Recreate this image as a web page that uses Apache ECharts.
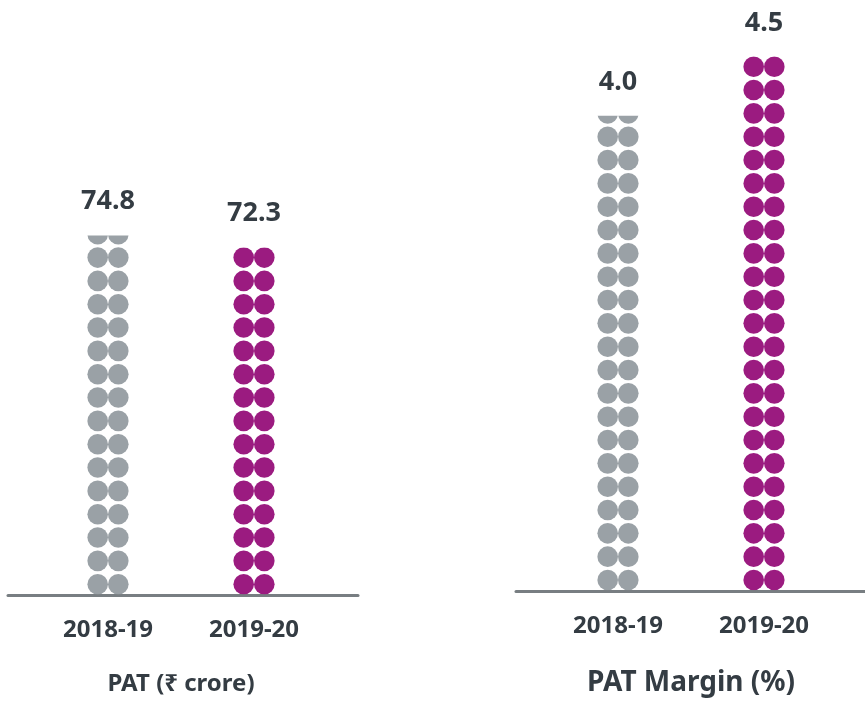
<!DOCTYPE html>
<html>
<head>
<meta charset="utf-8">
<script src="https://cdn.jsdelivr.net/npm/echarts@6/dist/echarts.min.js"></script>
<style>
  html, body { margin: 0; padding: 0; background: #fff; }
  #chart { width: 865px; height: 701px; }
</style>
</head>
<body>
<div id="chart"></div>
<script>
  // data
  const years = ['2018-19', '2019-20']
  const patValues = [74.8, 72.3]        // PAT (₹ crore)
  const marginValues = [4.0, 4.5]       // PAT Margin (%)
  const dotColors = ['#9aa1a6', '#9b1b80']

  const textColor = '#343c43'
  const font = '"Noto Sans", "DejaVu Sans", sans-serif'

  const chart = echarts.init(document.getElementById('chart'))

  function coloured(values) {
    return values.map((v, i) => ({ value: v, itemStyle: { color: dotColors[i] } }))
  }

  function catAxis(gridIndex, title, titleSize, labelMargin, titleGap) {
    return {
      type: 'category',
      gridIndex: gridIndex,
      data: years,
      axisLine: { show: false },
      axisTick: { show: false },
      axisLabel: {
        margin: labelMargin,
        color: textColor,
        fontSize: 24,
        fontWeight: 'bold',
        fontFamily: font
      },
      name: title,
      nameLocation: 'middle',
      nameGap: titleGap,
      nameTextStyle: {
        color: textColor,
        fontSize: titleSize,
        fontWeight: 'bold',
        fontFamily: font
      }
    }
  }

  function valAxis(gridIndex, max) {
    return {
      type: 'value',
      gridIndex: gridIndex,
      min: 0,
      max: max,
      axisLine: { show: false },
      axisTick: { show: false },
      axisLabel: { show: false },
      splitLine: { show: false }
    }
  }

  // plain baseline under each panel, wider than the bars' grid
  function lineAxis(gridIndex) {
    return {
      type: 'value',
      gridIndex: gridIndex,
      min: 0,
      max: 1,
      axisLine: { show: true, lineStyle: { color: '#787e82', width: 3 } },
      axisTick: { show: false },
      axisLabel: { show: false },
      splitLine: { show: false }
    }
  }

  // one column of dots; two columns side by side make one bar
  function dots(axisIndex, values, bound, side) {
    return {
      type: 'pictorialBar',
      xAxisIndex: axisIndex,
      yAxisIndex: axisIndex,
      barGap: '-100%',
      symbol: 'circle',
      symbolSize: [20.6, 20.6],
      symbolOffset: [side * 10.3, 0],
      symbolRepeat: 'fixed',
      symbolMargin: 1.4,
      symbolClip: true,
      symbolBoundingData: bound,
      data: coloured(values)
    }
  }

  // invisible bar carrying the value label at the exact value height
  function valueLabels(axisIndex, values, gap) {
    return {
      type: 'bar',
      xAxisIndex: axisIndex,
      yAxisIndex: axisIndex,
      barWidth: 42,
      itemStyle: { color: 'rgba(0,0,0,0)' },
      silent: true,
      label: {
        show: true,
        position: 'top',
        distance: gap,
        color: textColor,
        fontSize: 27,
        fontWeight: 'bold',
        fontFamily: font,
        formatter: p => p.value.toFixed(1)
      },
      data: values
    }
  }

  const option = {
    animation: false,
    grid: [
      { left: 35, width: 292, top: 114.5, bottom: 106.5, outerBoundsMode: 'none' },
      { left: 545, width: 292, top: 20.7, bottom: 110.7, outerBoundsMode: 'none' },
      { left: 8, width: 350, top: 114.5, bottom: 106, outerBoundsMode: 'none' },
      { left: 516, width: 349, top: 20.7, bottom: 109.5, outerBoundsMode: 'none' }
    ],
    xAxis: [
      catAxis(0, 'PAT (₹ crore)', 24, 23.5, 77.5),
      catAxis(1, 'PAT Margin (%)', 28, 23.7, 79),
      lineAxis(2),
      lineAxis(3)
    ],
    yAxis: [
      valAxis(0, 100),
      valAxis(1, 4.8),
      { type: 'value', gridIndex: 2, show: false },
      { type: 'value', gridIndex: 3, show: false }
    ],
    series: [
      dots(0, patValues, 101.5, -1),
      dots(0, patValues, 101.5, 1),
      valueLabels(0, patValues, 20.5),
      dots(1, marginValues, 4.892, -1),
      dots(1, marginValues, 4.892, 1),
      valueLabels(1, marginValues, 19.5)
    ]
  }

  chart.setOption(option)
</script>
</body>
</html>
